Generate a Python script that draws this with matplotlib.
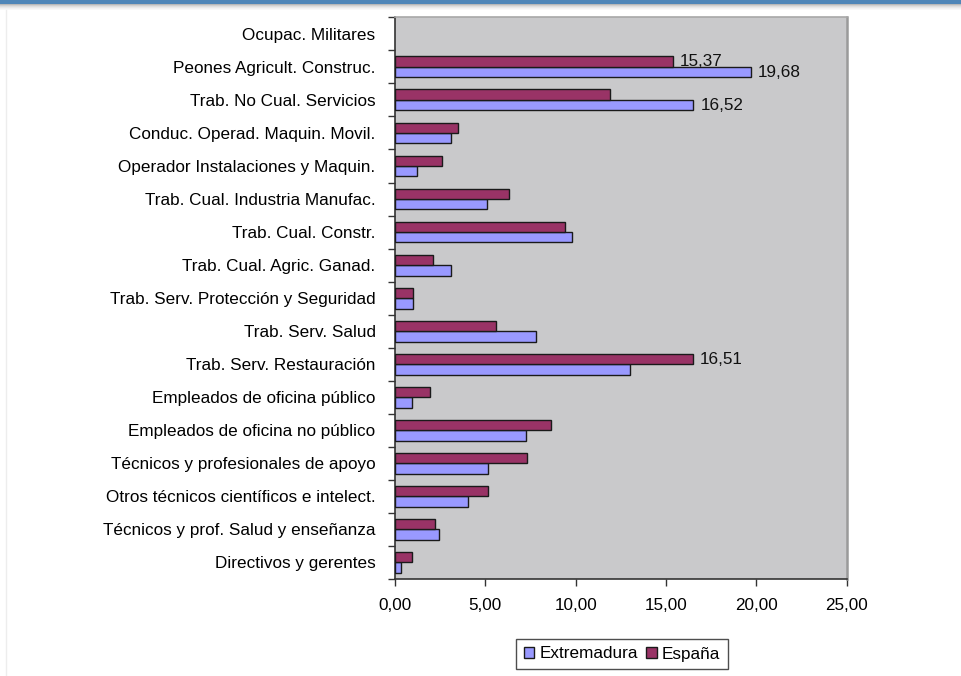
import matplotlib
matplotlib.use("Agg")
import matplotlib.pyplot as plt
from matplotlib.patches import Rectangle, Patch
from matplotlib.lines import Line2D
import numpy as np

plt.rcParams['font.family'] = ['Liberation Sans', 'DejaVu Sans']

categories = [
    "Directivos y gerentes",
    "Técnicos y prof. Salud y enseñanza",
    "Otros técnicos científicos e intelect.",
    "Técnicos y profesionales de apoyo",
    "Empleados de oficina no público",
    "Empleados de oficina público",
    "Trab. Serv. Restauración",
    "Trab. Serv. Salud",
    "Trab. Serv. Protección y Seguridad",
    "Trab. Cual. Agric. Ganad.",
    "Trab. Cual. Constr.",
    "Trab. Cual. Industria Manufac.",
    "Operador Instalaciones y Maquin.",
    "Conduc. Operad. Maquin. Movil.",
    "Trab. No Cual. Servicios",
    "Peones Agricult. Construc.",
    "Ocupac. Militares",
]
extremadura = [0.33, 2.45, 4.05, 5.16, 7.25, 0.92, 13.00, 7.80, 0.99, 3.08,
               9.81, 5.07, 1.22, 3.08, 16.52, 19.68, 0.0]
espana = [0.92, 2.19, 5.16, 7.32, 8.61, 1.95, 16.51, 5.57, 0.99, 2.12,
          9.40, 6.29, 2.60, 3.47, 11.89, 15.37, 0.0]
xticks = [0, 5, 10, 15, 20, 25]
xtick_labels = ["0,00", "5,00", "10,00", "15,00", "20,00", "25,00"]
# bars that carry a data label (category index)
labeled_ext = [14, 15]
labeled_esp = [6, 15]

c_ext = "#9999FF"
c_esp = "#993366"
FS = 12.3

fig = plt.figure(figsize=(9.62, 6.76), dpi=100)
W, H = 962, 676

# header bar with shadow
fig.patches.append(Rectangle((0, 1 - 4 / H), 1, 4 / H, transform=fig.transFigure,
                             facecolor="#4F86B8", edgecolor="none", zorder=0))
shades = ["#B8B8B8", "#CFCFCF", "#DEDEDE", "#E9E9E9", "#F2F2F2", "#F8F8F8"]
for i, s in enumerate(shades):
    fig.patches.append(Rectangle((0, 1 - (5 + i) / H), 1, 1 / H, transform=fig.transFigure,
                                 facecolor=s, edgecolor="none", zorder=0))
# faint left border
fig.lines.append(Line2D([5.5 / W, 5.5 / W], [0, 1 - 10 / H], transform=fig.transFigure,
                        color="#EDEDED", lw=1))

ax = fig.add_axes([395 / W, 1 - 579 / H, (846.7 - 395) / W, (579 - 17.3) / H])
ax.set_facecolor("#C9C9CB")

y = np.arange(len(categories))
h = 0.315
lw_ext = [1.0 if v > 0 else 0 for v in extremadura]
lw_esp = [1.0 if v > 0 else 0 for v in espana]
ax.barh(y - h / 2, extremadura, height=h, color=c_ext, edgecolor="#1A1A1A", linewidth=lw_ext,
        label="Extremadura", zorder=3)
ax.barh(y + h / 2, espana, height=h, color=c_esp, edgecolor="#1A1A1A", linewidth=lw_esp,
        label="España", zorder=3)

def fmt(v):
    return f"{v:.2f}".replace(".", ",")

for i in labeled_ext:
    ax.annotate(fmt(extremadura[i]), (extremadura[i], y[i] - h / 2), xytext=(5, 0),
                textcoords="offset points", va="center", ha="left", fontsize=FS, color="#111111")
for i in labeled_esp:
    ax.annotate(fmt(espana[i]), (espana[i], y[i] + h / 2), xytext=(5, 0),
                textcoords="offset points", va="center", ha="left", fontsize=FS, color="#111111")

ax.set_xlim(0, 25)
ax.set_ylim(-0.5, len(categories) - 0.5)
ax.set_xticks(xticks)
ax.set_xticklabels(xtick_labels, fontsize=FS)
ax.set_yticks(y)
ax.set_yticklabels(categories, fontsize=FS)
ax.set_yticks(np.arange(-0.5, len(categories), 1), minor=True)
ax.tick_params(axis="y", which="major", length=0, pad=14)
ax.tick_params(axis="y", which="minor", length=5, width=1, color="#333333")
ax.tick_params(axis="x", which="major", length=5, width=1, color="#333333", pad=9)

for side in ["left", "bottom"]:
    ax.spines[side].set_color("#333333")
    ax.spines[side].set_linewidth(1.2)
ax.spines["top"].set_color("#A8A8A8")
ax.spines["top"].set_linewidth(1.2)
ax.spines["right"].set_color("#9A9A9A")
ax.spines["right"].set_linewidth(1.8)

handles = [Patch(facecolor=c_ext, edgecolor="#1A1A1A", linewidth=1, label="Extremadura"),
           Patch(facecolor=c_esp, edgecolor="#1A1A1A", linewidth=1, label="España")]
leg = fig.legend(handles=handles, loc="center", bbox_to_anchor=(622 / W, 1 - 654 / H),
                 ncol=2, fontsize=FS, frameon=True, fancybox=False, shadow=False,
                 handlelength=0.6, handleheight=0.6, handletextpad=0.3, columnspacing=0.5,
                 borderpad=0.45, edgecolor="#222222")
leg.get_frame().set_linewidth(1.0)

fig.savefig("out.png", dpi=100, facecolor="white")
